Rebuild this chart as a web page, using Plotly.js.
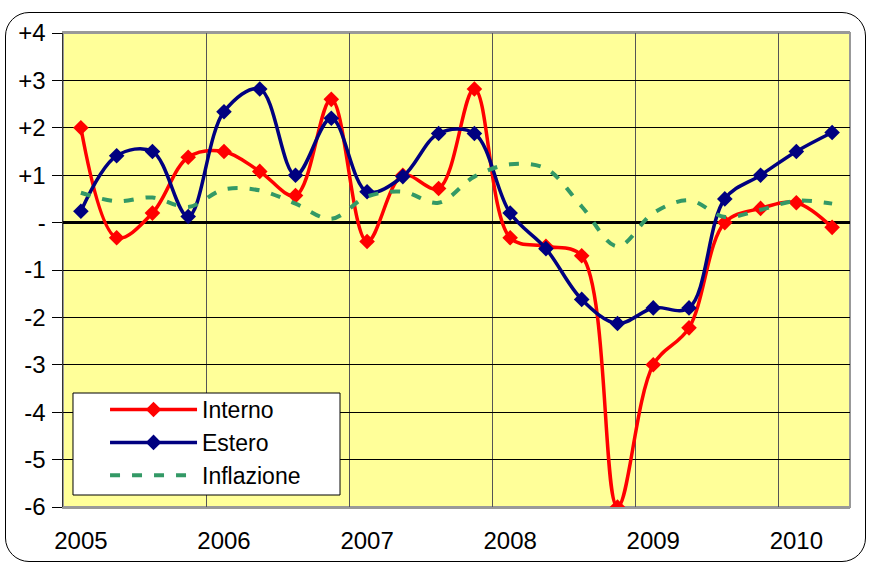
<!DOCTYPE html>
<html>
<head>
<meta charset="utf-8">
<script src="https://cdn.plot.ly/plotly-3.0.1.min.js"></script>
<style>
  html, body { margin:0; padding:0; background:#fff; }
  #wrap { position:relative; width:870px; height:563px; overflow:hidden; }
  #chart { position:absolute; left:0; top:0; width:870px; height:563px; }
  #frame { position:absolute; left:5px; top:12px; width:859px; height:548px;
           border:1.5px solid #000; border-radius:24px; pointer-events:none; }
</style>
</head>
<body>
<div id="wrap">
  <div id="frame"></div>
  <div id="chart"></div>
</div>
<script>
// Quarterly categories 2005Q1 .. 2010Q2
const quarters = ['2005Q1','2005Q2','2005Q3','2005Q4','2006Q1','2006Q2','2006Q3','2006Q4',
                  '2007Q1','2007Q2','2007Q3','2007Q4','2008Q1','2008Q2','2008Q3','2008Q4',
                  '2009Q1','2009Q2','2009Q3','2009Q4','2010Q1','2010Q2'];
const yearLabels = ['2005','2006','2007','2008','2009','2010'];
const yearIndex = [0, 4, 8, 12, 16, 20];

const interno = [2.0, -0.32, 0.2, 1.38, 1.5, 1.08, 0.57, 2.6,
                 -0.4, 1.0, 0.72, 2.82, -0.32, -0.5, -0.7, -6.0,
                 -3.0, -2.22, 0.0, 0.3, 0.42, -0.1];
const estero  = [0.24, 1.41, 1.5, 0.13, 2.34, 2.82, 1.0, 2.2,
                 0.65, 0.97, 1.88, 1.88, 0.2, -0.55, -1.62, -2.13,
                 -1.8, -1.8, 0.5, 1.0, 1.5, 1.9];
const inflazione = [0.63, 0.45, 0.53, 0.33, 0.7, 0.68, 0.4, 0.08,
                    0.55, 0.65, 0.42, 0.97, 1.23, 1.14, 0.34, -0.5,
                    0.2, 0.47, 0.12, 0.27, 0.46, 0.4];

const yTickVals = [-6,-5,-4,-3,-2,-1,0,1,2,3,4];
const yTickText = ['-6','-5','-4','-3','-2','-1','-','+1','+2','+3','+4'];

const xIdx = quarters.map((q, i) => i);
const FONT = 'Liberation Sans, Arial, sans-serif';

const traces = [
  { x: xIdx, y: interno, name: 'Interno', type: 'scatter', mode: 'lines+markers',
    line: { color: '#FF0000', width: 3.5, shape: 'spline', smoothing: 1 },
    marker: { symbol: 'diamond', size: 12, color: '#FF0000' } },
  { x: xIdx, y: estero, name: 'Estero', type: 'scatter', mode: 'lines+markers',
    line: { color: '#000080', width: 3.5, shape: 'spline', smoothing: 1 },
    marker: { symbol: 'diamond', size: 12, color: '#000080' } },
  { x: xIdx, y: inflazione, name: 'Inflazione', type: 'scatter', mode: 'lines',
    line: { color: '#339966', width: 4, shape: 'spline', smoothing: 1, dash: '10px,12px' } }
];

const layout = {
  width: 870, height: 563,
  margin: { l: 63, r: 20, t: 33, b: 56 },
  paper_bgcolor: 'rgba(0,0,0,0)',
  plot_bgcolor: '#FFFF99',
  font: { family: FONT, size: 24, color: '#000' },
  showlegend: true,
  legend: {
    x: 0.0534, y: 0.251, xanchor: 'left', yanchor: 'top',
    bgcolor: 'rgba(0,0,0,0)', borderwidth: 0,
    font: { family: FONT, size: 23, color: '#000' },
    itemwidth: 87, tracegroupgap: 0
  },
  xaxis: {
    range: [-0.5, 21.5],
    tickmode: 'array', tickvals: yearIndex, ticktext: yearLabels,
    ticks: '', showgrid: false, zeroline: false,
    showline: true, linecolor: '#999', linewidth: 2, mirror: true,
    ticklabelstandoff: 11,
    tickfont: { family: FONT, size: 24, color: '#000' },
    minor: { tickmode: 'linear', tick0: 3.5, dtick: 4, showgrid: true,
             gridcolor: '#555', gridwidth: 1, ticks: '' }
  },
  yaxis: {
    range: [-6, 4],
    tickmode: 'array', tickvals: yTickVals, ticktext: yTickText,
    ticks: 'outside', ticklen: 10, tickcolor: '#000', tickwidth: 1,
    showgrid: true, gridcolor: '#000', gridwidth: 1,
    zeroline: true, zerolinecolor: '#000', zerolinewidth: 3.5,
    showline: true, linecolor: '#333', linewidth: 1.5,
    ticklabelstandoff: 1,
    tickfont: { family: FONT, size: 24, color: '#000' }
  },
  shapes: [
    { type: 'rect', xref: 'paper', yref: 'paper', x0: 0, x1: 1, y0: 0, y1: 1,
      line: { color: '#999', width: 2 }, fillcolor: 'rgba(0,0,0,0)', layer: 'below' },
    // legend box
    { type: 'rect', xref: 'paper', yref: 'paper', x0: 0.0127, x1: 0.352, y0: 0.0253, y1: 0.2405,
      line: { color: '#000', width: 1 }, fillcolor: '#FFFFFF', layer: 'above' }
  ]
};

Plotly.newPlot('chart', traces, layout, { displayModeBar: false, staticPlot: true });
</script>
</body>
</html>
